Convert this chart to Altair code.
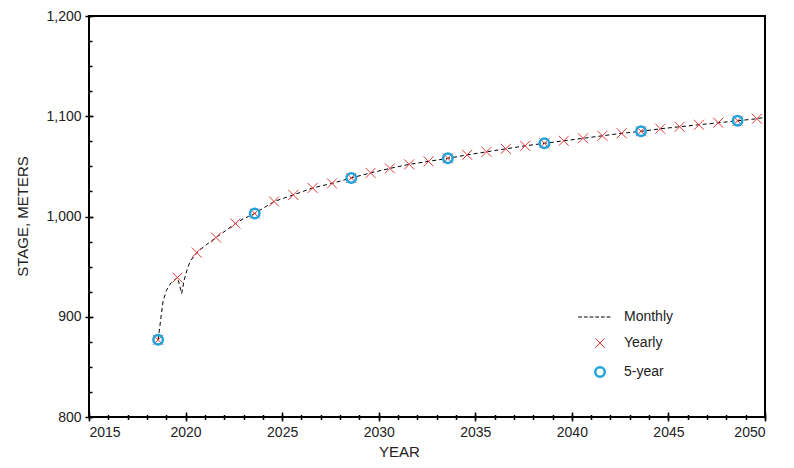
import altair as alt
import pandas as pd

# ---------------- data ----------------
yearly_x = [2018.58, 2019.58, 2020.58, 2021.58, 2022.58, 2023.58, 2024.58, 2025.58,
            2026.58, 2027.58, 2028.58, 2029.58, 2030.58, 2031.58, 2032.58, 2033.58,
            2034.58, 2035.58, 2036.58, 2037.58, 2038.58, 2039.58, 2040.58, 2041.58,
            2042.58, 2043.58, 2044.58, 2045.58, 2046.58, 2047.58, 2048.58, 2049.58]
yearly_y = [877, 939, 964, 979, 993, 1003, 1015, 1021.5,
            1028.5, 1033, 1038.5, 1043.5, 1048, 1052, 1055, 1058,
            1061.5, 1064.5, 1067.5, 1070.5, 1073, 1075.5, 1078, 1080.5,
            1083, 1085, 1087.5, 1089.5, 1091.5, 1093.5, 1095.5, 1097.5]

five_x = [2018.58, 2023.58, 2028.58, 2033.58, 2038.58, 2043.58, 2048.58]
five_y = [877, 1003, 1038.5, 1058, 1073, 1085, 1095.5]

monthly_x = [2018.58, 2018.75, 2018.83, 2019.0, 2019.25, 2019.58, 2019.67, 2019.8,
             2019.92, 2020.08, 2020.23, 2020.58, 2021.08, 2021.58, 2022.08, 2022.58,
             2022.92, 2023.25, 2023.58, 2024.08, 2024.58, 2025.58, 2026.58, 2027.58,
             2028.58, 2029.58, 2030.58, 2031.58, 2032.58, 2033.58, 2034.58, 2035.58,
             2036.58, 2037.58, 2038.58, 2039.58, 2040.58, 2041.58, 2042.58, 2043.58,
             2044.58, 2045.58, 2046.58, 2047.58, 2048.58, 2049.58, 2050.0]
monthly_y = [877, 903, 915, 926, 934, 939, 933, 923,
             936, 947, 955, 964, 972, 979, 986, 993,
             997, 1000, 1003, 1009, 1015, 1021.5, 1028.5, 1033,
             1038.5, 1043.5, 1048, 1052, 1055, 1058, 1061.5, 1064.5,
             1067.5, 1070.5, 1073, 1075.5, 1078, 1080.5, 1083, 1085,
             1087.5, 1089.5, 1091.5, 1093.5, 1095.5, 1097.5, 1099]

series_names = ["Monthly", "Yearly", "5-year"]
x_major = [2015, 2020, 2025, 2030, 2035, 2040, 2045, 2050]
x_minor = list(range(2015, 2051))
y_major = [800, 900, 1000, 1100, 1200]
y_minor = [800, 825, 850, 875, 900, 925, 950, 975, 1000, 1025, 1050, 1075,
           1100, 1125, 1150, 1175, 1200]

# ---------------- styling ----------------
FONT = "Liberation Sans"
RED = "#e23a3a"
BLUE = "#1ea3da"
DASH_PATH = ("M-4.6,0H-3.8M-3.4,0H-2.6M-2.2,0H-1.4M-1,0H-0.2"
             "M0.2,0H1M1.4,0H2.2")
X_PATH = "M-1,-1L1,1M-1,1L1,-1"

monthly = pd.DataFrame({"year": monthly_x, "stage": monthly_y})
yearly = pd.DataFrame({"year": yearly_x, "stage": yearly_y, "series": "Yearly"})
five = pd.DataFrame({"year": five_x, "stage": five_y, "series": "5-year"})

xscale = alt.Scale(domain=[2015, 2050], nice=False, zero=False)
yscale = alt.Scale(domain=[800, 1200], nice=False, zero=False)

shape_scale = alt.Scale(domain=series_names, range=[DASH_PATH, X_PATH, "circle"])
stroke_scale = alt.Scale(domain=series_names, range=["black", RED, BLUE])

legend = alt.Legend(title=None, orient="none", legendX=504, legendY=294,
                    labelFont=FONT, labelFontSize=14, labelColor="#222",
                    labelOffset=17, rowPadding=12, symbolSize=90, padding=0,
                    symbolStrokeWidth=alt.ExprRef(
                        expr="datum.value === '5-year' ? 2.5 : 1"))

# main axes (labels + titles)
x_axis_main = alt.Axis(orient="bottom", values=x_major, format="d", ticks=False,
                       tickSize=0, domain=False, grid=False, labelFont=FONT,
                       labelFontSize=14, labelColor="#222", labelPadding=8,
                       title="YEAR", titleFont=FONT, titleFontSize=15,
                       titleFontWeight="normal", titleColor="#222",
                       titleX=310, titleY=39, titleBaseline="alphabetic",
                       titleAlign="center", titleAnchor="start")
y_axis_main = alt.Axis(orient="left", values=y_major,
                       labelExpr="format(datum.value, ',')", ticks=False,
                       tickSize=0, domain=False, grid=False, labelFont=FONT,
                       labelFontSize=14, labelColor="#222", labelPadding=8,
                       title="STAGE, METERS", titleFont=FONT, titleFontSize=15,
                       titleFontWeight="normal", titleColor="#222",
                       titleX=-62, titleY=200, titleAngle=270,
                       titleBaseline="alphabetic", titleAlign="center",
                       titleAnchor="start")

# minor ticks
x_axis_minor = alt.Axis(orient="bottom", values=x_minor, labels=False, domain=False,
                        grid=False, tickSize=5, offset=-2.5, tickColor="black",
                        tickWidth=1.5, title=None)
y_axis_minor = alt.Axis(orient="left", values=y_minor, labels=False, domain=False,
                        grid=False, tickSize=3, offset=-3, tickColor="black",
                        tickWidth=1.5, title=None)
# major ticks
x_axis_major = alt.Axis(orient="bottom", values=x_major, labels=False, domain=False,
                        grid=False, tickSize=9, offset=-5, tickColor="black",
                        tickWidth=1.5, title=None)
y_axis_major = alt.Axis(orient="left", values=y_major, labels=False, domain=False,
                        grid=False, tickSize=8, offset=-4, tickColor="black",
                        tickWidth=1.5, title=None)

line = alt.Chart(monthly).mark_line(color="black", strokeDash=[4, 3],
                                    strokeWidth=1).encode(
    x=alt.X("year:Q", scale=xscale, axis=x_axis_main),
    y=alt.Y("stage:Q", scale=yscale, axis=y_axis_main),
)

yearly_pts = alt.Chart(yearly).mark_point(filled=False, size=100, opacity=1,
                                          strokeWidth=1).encode(
    x=alt.X("year:Q", scale=xscale, axis=x_axis_minor),
    y=alt.Y("stage:Q", scale=yscale, axis=y_axis_minor),
    shape=alt.Shape("series:N", scale=shape_scale, legend=legend),
    stroke=alt.Stroke("series:N", scale=stroke_scale, legend=legend),
)

five_pts = alt.Chart(five).mark_point(filled=False, size=90, opacity=1,
                                      strokeWidth=2.5).encode(
    x=alt.X("year:Q", scale=xscale, axis=x_axis_major),
    y=alt.Y("stage:Q", scale=yscale, axis=y_axis_major),
    shape=alt.Shape("series:N", scale=shape_scale, legend=legend),
    stroke=alt.Stroke("series:N", scale=stroke_scale, legend=legend),
)

chart = alt.layer(line, yearly_pts, five_pts).resolve_axis(
    x="independent", y="independent"
).properties(
    width=676, height=401,
    autosize=alt.AutoSizeParams(type="none"),
    padding={"left": 81, "top": 8, "right": 20, "bottom": 43},
    background="white",
).configure_view(
    stroke="black", strokeWidth=2
)

chart.save("out.html", embed_options={"renderer": "svg", "actions": False})
